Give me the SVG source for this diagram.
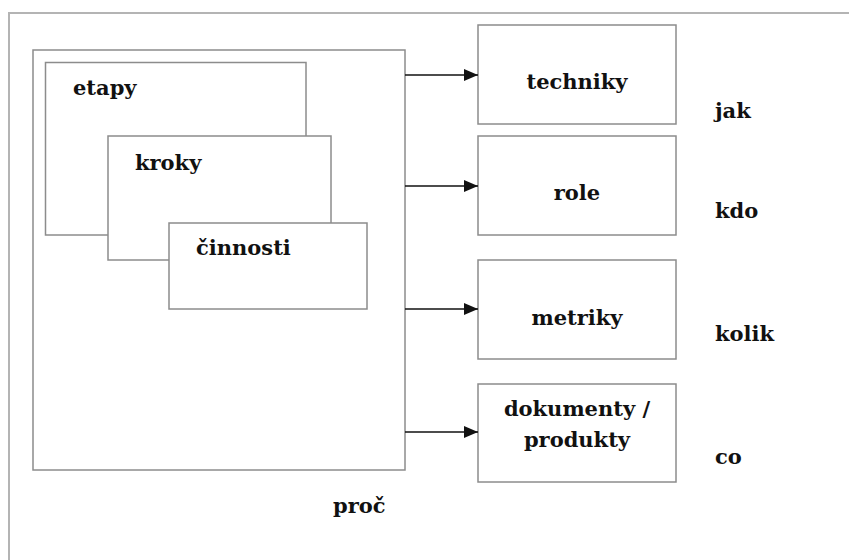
<svg xmlns="http://www.w3.org/2000/svg" width="849" height="560" viewBox="0 0 849 560">
<style>
.box{fill:#fff;stroke:#8c8c8c;stroke-width:1.5}
.frame{fill:none;stroke:#b4b4b4;stroke-width:2}
text{font-family:"DejaVu Serif","Liberation Serif",serif;font-weight:bold;font-size:21px;fill:#111}
.c{text-anchor:middle}
.arr{stroke:#111;stroke-width:1.5;fill:none;marker-end:url(#ah)}
</style>
<defs>
<marker id="ah" markerWidth="14" markerHeight="12" refX="14" refY="6" orient="auto" markerUnits="userSpaceOnUse">
<path d="M0,0 L14,6 L0,12 Z" fill="#111"/>
</marker>
</defs>
<rect width="849" height="560" fill="#fff"/>
<path class="frame" d="M9,560 V13 H849"/>
<g id="proc">
<rect class="box" x="33" y="50" width="372" height="420"/>
<text x="333" y="513">proč</text>
</g>
<g id="etapy">
<rect class="box" x="45.5" y="62.5" width="260.5" height="172.5"/>
<text x="73" y="95">etapy</text>
</g>
<g id="kroky">
<rect class="box" x="108" y="136" width="223" height="124"/>
<text x="135" y="170">kroky</text>
</g>
<g id="cinnosti">
<rect class="box" x="169" y="223" width="198" height="86"/>
<text x="196" y="255">činnosti</text>
</g>
<g id="techniky">
<rect class="box" x="478" y="25" width="198" height="99"/>
<text class="c" x="577" y="89">techniky</text>
</g>
<g id="role">
<rect class="box" x="478" y="136" width="198" height="99"/>
<text class="c" x="577" y="200">role</text>
</g>
<g id="metriky">
<rect class="box" x="478" y="260" width="198" height="99"/>
<text class="c" x="577" y="325">metriky</text>
</g>
<g id="dokumenty">
<rect class="box" x="478" y="384" width="198" height="98"/>
<text class="c" x="577" y="416">dokumenty /</text>
<text class="c" x="577" y="447">produkty</text>
</g>
<g id="labels">
<text x="715" y="118">jak</text>
<text x="715" y="218">kdo</text>
<text x="715" y="341">kolik</text>
<text x="715" y="464">co</text>
</g>
<g id="connectors">
<line class="arr" x1="405" y1="75" x2="478" y2="75"/>
<line class="arr" x1="405" y1="186" x2="478" y2="186"/>
<line class="arr" x1="405" y1="309" x2="478" y2="309"/>
<line class="arr" x1="405" y1="432" x2="478" y2="432"/>
</g>
</svg>
